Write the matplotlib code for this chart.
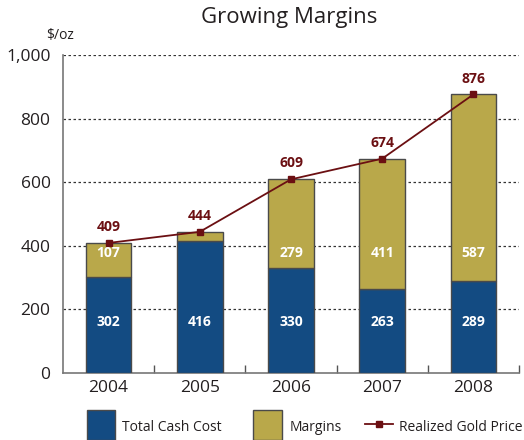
import matplotlib
matplotlib.use("Agg")
import matplotlib.pyplot as plt
from matplotlib.patches import Rectangle
from matplotlib.lines import Line2D
import numpy as np

plt.rcParams['font.family'] = ['Open Sans', 'DejaVu Sans']

years = ["2004", "2005", "2006", "2007", "2008"]
cash_cost = [302, 416, 330, 263, 289]
margins = [107, 28, 279, 411, 587]
gold_price = [409, 444, 609, 674, 876]
margin_labels = ["107", "", "279", "411", "587"]
yticks = [0, 200, 400, 600, 800, 1000]
legend_labels = ["Total Cash Cost", "Margins", "Realized Gold Price"]

BLUE = "#134b82"
GOLD = "#b9a84a"
RED = "#6b0f12"
EDGE = "#4a4a4a"
TXT = "#231f20"

W, H = 524, 440
fig = plt.figure(figsize=(W/100, H/100), dpi=100)
ax = fig.add_axes([63/W, 1-373/H, (519-63)/W, (373-55)/H])

x = np.arange(len(years))
w = 0.5
ax.bar(x, cash_cost, w, color=BLUE, edgecolor=EDGE, linewidth=1.0, zorder=3)
ax.bar(x, margins, w, bottom=cash_cost, color=GOLD, edgecolor=EDGE, linewidth=1.0, zorder=3)
ax.plot(x, gold_price, color=RED, lw=1.3, marker='s', ms=4.5, zorder=4)

for i in range(len(years)):
    ax.text(x[i], 160, str(cash_cost[i]), ha='center', va='center', color='white',
            fontsize=10, fontweight='bold', zorder=5)
    if margin_labels[i]:
        ax.text(x[i], 376, margin_labels[i], ha='center', va='center', color='white',
                fontsize=10, fontweight='bold', zorder=5)
    ax.text(x[i], gold_price[i] + 50, str(gold_price[i]), ha='center', va='center',
            color=RED, fontsize=10, fontweight='bold', zorder=5)

ax.set_xlim(-0.5, 4.5)
ax.set_ylim(0, 1000)
ax.set_yticks(yticks)
ax.set_yticklabels([f"{v:,}" for v in yticks], fontsize=12.5, color=TXT)
ax.set_xticks(x)
ax.set_xticklabels(years, fontsize=12.5, color=TXT)
ax.tick_params(axis='y', length=0, pad=9)
ax.tick_params(axis='x', length=0, pad=5)
ax.set_xticks(np.arange(0.5, 5.0, 1.0), minor=True)
ax.tick_params(axis='x', which='minor', direction='in', length=6, color='#555555', width=1)

for v in yticks[1:]:
    ax.axhline(v, color='#333333', lw=0.9, ls=(0, (2, 2)), zorder=1)

for s in ['top', 'right']:
    ax.spines[s].set_visible(False)
ax.spines['left'].set_color('#777777')
ax.spines['bottom'].set_color('#777777')
ax.spines['left'].set_linewidth(1.2)
ax.spines['bottom'].set_linewidth(1.2)

fig.text(289/W, 1-17/H, "Growing Margins", ha='center', va='center', fontsize=16, color=TXT)
fig.text(46/W, 1-35/H, "$/oz", ha='left', va='center', fontsize=10, color=TXT)

# legend (drawn in figure pixel positions)
def px(xp, yp):
    return xp/W, 1-yp/H

fig.add_artist(Rectangle(px(87, 440), 28/W, 30/H, transform=fig.transFigure,
                         facecolor=BLUE, edgecolor=EDGE, lw=1.0))
fig.add_artist(Rectangle(px(253, 440), 29/W, 30/H, transform=fig.transFigure,
                         facecolor=GOLD, edgecolor=EDGE, lw=1.0))
fig.add_artist(Line2D([365/W, 393/W], [1-424/H, 1-424/H], transform=fig.transFigure,
                      color=RED, lw=1.3))
fig.add_artist(Line2D([379/W], [1-424/H], transform=fig.transFigure,
                      color=RED, marker='s', ms=4, lw=0))
for xp, lab in zip([122, 290, 399], legend_labels):
    fig.text(*px(xp, 427), lab, ha='left', va='center', fontsize=10, color=TXT)

fig.savefig("out.png", dpi=100)
